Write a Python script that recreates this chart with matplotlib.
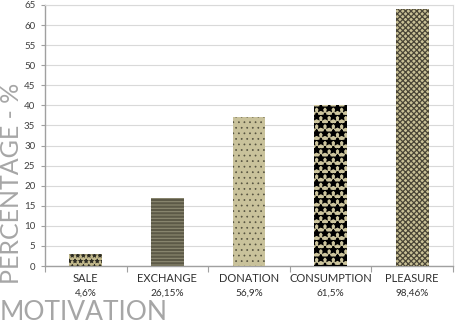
import matplotlib
matplotlib.use("Agg")
import matplotlib.pyplot as plt
from matplotlib.transforms import blended_transform_factory

plt.rcParams['font.family'] = ['Lato', 'DejaVu Sans']

categories = ["SALE", "EXCHANGE", "DONATION", "CONSUMPTION", "PLEASURE"]
values = [3, 17, 37, 40, 64]
percent_labels = ["4,6%", "26,15%", "56,9%", "61,5%", "98,46%"]
y_ticks = list(range(0, 70, 5))

faces = ["#c2b98c", "#5c5947", "#c9c29b", "#cdc59d", "#c9c196"]
hatch_colors = ["#2b2a22", "#8d8a72", "#55523f", "#000000", "#4a4536"]
hatches = ["***", "-----", "...", "**", "xxxxxx"]
hatch_lw = [0.6, 0.8, 0.5, 1.4, 0.9]

fig = plt.figure(figsize=(4.57, 3.24), dpi=100)
ax = fig.add_axes([45/457, 58/324, 408/457, 261/324])

x = list(range(len(categories)))
for i in x:
    with plt.rc_context({'hatch.linewidth': hatch_lw[i]}):
        ax.bar(x[i], values[i], width=0.4, color=faces[i], edgecolor=hatch_colors[i],
               hatch=hatches[i], linewidth=0, zorder=3)

ax.set_xlim(-0.5, len(categories) - 0.5)
ax.set_ylim(0, 65)
ax.set_yticks(y_ticks)
ax.tick_params(axis='y', labelsize=7, colors='#a0a0a0', labelcolor='#404040', length=3, width=0.8, pad=4)
ax.grid(axis='y', color='#d9d9d9', linewidth=0.8, zorder=0)
ax.set_axisbelow(True)

ax.set_xticks([k + 0.5 for k in range(-1, len(categories))], minor=False)
ax.set_xticklabels([])
ax.tick_params(axis='x', which='major', length=4, width=0.8, color='#a0a0a0')

tr = blended_transform_factory(ax.transData, ax.transAxes)
for i, (c, p) in enumerate(zip(categories, percent_labels)):
    ax.text(i, -0.047, c, transform=tr, ha='center', va='center', fontsize=8, color='#303030')
    ax.text(i, -0.103, p, transform=tr, ha='center', va='center', fontsize=7.2, color='#303030')

for s in ['left', 'bottom']:
    ax.spines[s].set_color('#a0a0a0')
    ax.spines[s].set_linewidth(1.0)
for s in ['top', 'right']:
    ax.spines[s].set_color('#d9d9d9')
    ax.spines[s].set_linewidth(0.8)

fig.text(12/457, 1 - 183/324, "PERCENTAGE - %", rotation=90, ha='center', va='center',
         fontsize=18, color='#a6a6a6')
fig.text(0/457, 1 - 312/324, "MOTIVATION", ha='left', va='center',
         fontsize=19, color='#a6a6a6')

fig.savefig("out.png", dpi=100)
